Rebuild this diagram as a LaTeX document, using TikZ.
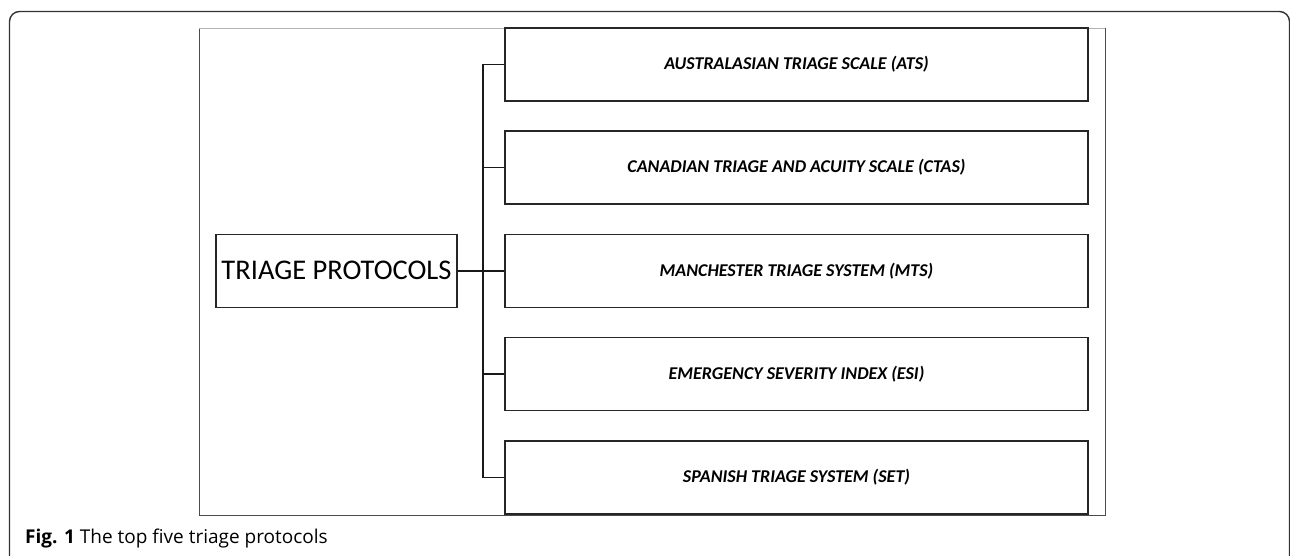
\documentclass[tikz,border=0pt]{standalone}
\usepackage{fontspec}
\newfontfamily\boxfont{Carlito}
\newfontfamily\capfont{Open Sans}
\usetikzlibrary{trees}

\begin{document}
\begin{tikzpicture}[x=1pt, y=-1pt,
  grow'=right, level distance=460pt, sibling distance=103.25pt,
  every node/.style = {align=center},
  rootbox/.style = {draw=black!85, line width=1.5pt, minimum width=241pt, minimum height=73pt,
    inner sep=0pt, font=\boxfont\fontsize{28.5}{34}\selectfont},
  protocol/.style = {draw=black!85, line width=1.5pt, minimum width=583pt, minimum height=73pt,
    inner sep=0pt, font=\boxfont\fontsize{18}{22}\selectfont\bfseries\itshape},
  edge from parent/.style = {draw, black!90, line width=1.5pt},
  edge from parent path = {(\tikzparentnode.east) -- +(25pt,0pt) |- (\tikzchildnode.west)}]
  \useasboundingbox (0,0) rectangle (1290,555);
  % page frame, cut off at the bottom
  \begin{scope}
    \clip (0,0) rectangle (1290,555);
    \draw[rounded corners=10pt, line width=1.4pt, black!80] (9.5,600) |- (1289.5,11.5) -- (1289.5,600);
  \end{scope}
  % figure border
  \draw[black!70, line width=1pt] (199,28) -- (199,515) -- (1105,515) -- (1105,28);
  \draw[black!30, line width=1pt] (199,28) -- (1105,28);
  \node[rootbox] (triage) at (336.5,270.75) {TRIAGE PROTOCOLS}
    child { node[protocol] (ats) {AUSTRALASIAN TRIAGE SCALE (ATS)} }
    child { node[protocol] (ctas) {CANADIAN TRIAGE AND ACUITY SCALE (CTAS)} }
    child { node[protocol] (mts) {MANCHESTER TRIAGE SYSTEM (MTS)} }
    child { node[protocol] (esi) {EMERGENCY SEVERITY INDEX (ESI)} }
    child { node[protocol] (set) {SPANISH TRIAGE SYSTEM (SET)} };
  \node[anchor=base west, inner sep=0pt, font=\capfont\fontsize{19}{22}\selectfont] (caption) at (25,543)
    {\textbf{Fig. 1} The top five triage protocols};
\end{tikzpicture}
\end{document}
